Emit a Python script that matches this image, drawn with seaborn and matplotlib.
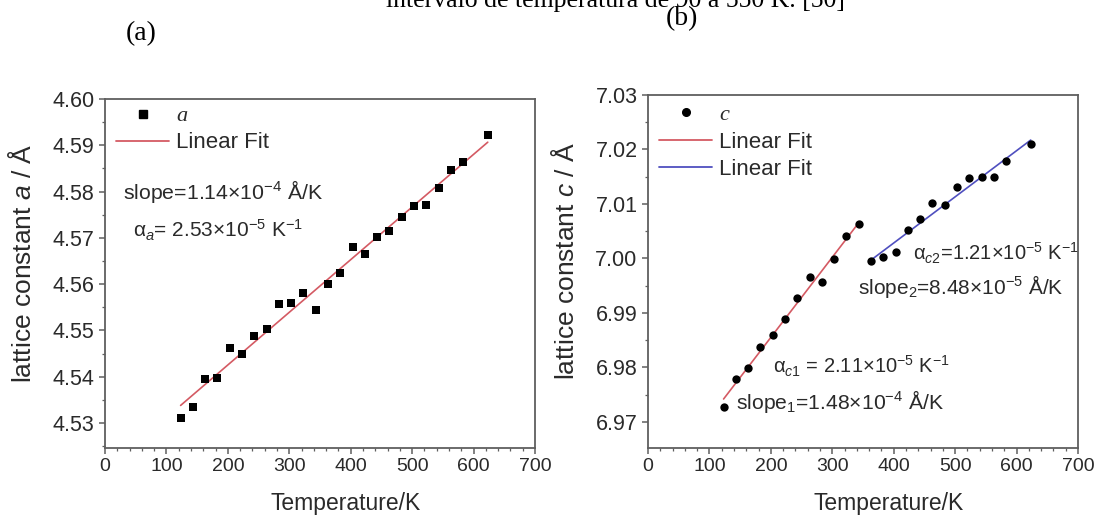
import numpy as np
import pandas as pd
import matplotlib
matplotlib.use("Agg")
import matplotlib.pyplot as plt
import seaborn as sns
from matplotlib.ticker import MultipleLocator
from matplotlib.lines import Line2D

# ---------------- data ----------------
temp_a = [123, 143, 163, 183, 203, 223, 243, 263, 283, 303, 323, 343, 363,
          383, 403, 423, 443, 463, 483, 503, 523, 543, 563, 583, 623]
lat_a = [4.5311, 4.5334, 4.5396, 4.5397, 4.5462, 4.5450, 4.5489, 4.5504,
         4.5557, 4.5559, 4.5581, 4.5545, 4.5601, 4.5623, 4.5680, 4.5665,
         4.5702, 4.5714, 4.5746, 4.5769, 4.5771, 4.5808, 4.5847, 4.5863,
         4.5922]

temp_c1 = [123, 143, 163, 183, 203, 223, 243, 263, 283, 303, 323, 343]
lat_c1 = [6.9728, 6.9778, 6.9799, 6.9838, 6.9859, 6.9889, 6.9927, 6.9965,
          6.9957, 6.9999, 7.0042, 7.0063]

temp_c2 = [363, 383, 403, 423, 443, 463, 483, 503, 523, 543, 563, 583, 623]
lat_c2 = [6.9996, 7.0002, 7.0011, 7.0053, 7.0072, 7.0101, 7.0098, 7.0132,
          7.0148, 7.0149, 7.0149, 7.0178, 7.0211]

x_ticks = [0, 100, 200, 300, 400, 500, 600, 700]
ya_ticks = [4.53, 4.54, 4.55, 4.56, 4.57, 4.58, 4.59, 4.60]
yc_ticks = [6.97, 6.98, 6.99, 7.00, 7.01, 7.02, 7.03]

df_a = pd.DataFrame({"T": temp_a, "a": lat_a})
df_c1 = pd.DataFrame({"T": temp_c1, "c": lat_c1})
df_c2 = pd.DataFrame({"T": temp_c2, "c": lat_c2})

# ---------------- style ----------------
sns.set_theme(style="white")
plt.rcParams["font.family"] = ["Liberation Sans", "DejaVu Sans"]
plt.rcParams["mathtext.fontset"] = "custom"
plt.rcParams["mathtext.rm"] = "Liberation Sans"
plt.rcParams["mathtext.it"] = "Liberation Sans:italic"
plt.rcParams["mathtext.bf"] = "Liberation Sans:bold"

RED = "#d45a63"
BLUE = "#4f4fbf"
SPINE = "#5f5f5f"
TXT = "#2a2a2a"
XTICK_FS = 14
YTICK_FS = 15.5
XLAB_FS = 16.5
YLAB_FS = 19
ANN_FS = 15
LEG_FS = 16

fig = plt.figure(figsize=(11.14, 5.17), dpi=100)
ax1 = fig.add_axes([0.0943, 0.1335, 0.386, 0.675])
ax2 = fig.add_axes([0.5817, 0.1335, 0.386, 0.6827])


def style_axes(ax):
    for s in ax.spines.values():
        s.set_color(SPINE)
        s.set_linewidth(1.3)
    ax.tick_params(which="both", direction="out", top=False, right=False,
                   bottom=True, left=True, color=SPINE, labelcolor=TXT)
    ax.tick_params(axis="x", labelsize=XTICK_FS)
    ax.tick_params(axis="y", labelsize=YTICK_FS)
    ax.tick_params(which="major", length=4.5, width=1.1, pad=3)
    ax.tick_params(which="minor", length=2.5, width=0.9)
    ax.set_xlim(0, 700)
    ax.set_xticks(x_ticks)
    ax.xaxis.set_minor_locator(MultipleLocator(20))
    ax.set_xlabel("Temperature/K", fontsize=XLAB_FS, color=TXT)
    ax.xaxis.set_label_coords(0.56, -0.125)


# ---------------- panel (a) ----------------
sns.scatterplot(data=df_a, x="T", y="a", ax=ax1, marker="s", s=38,
                color="black", edgecolor="black", linewidth=0, zorder=3)
sns.regplot(data=df_a, x="T", y="a", ax=ax1, scatter=False, ci=None,
            line_kws={"color": RED, "lw": 1.2}, truncate=True)
style_axes(ax1)
ax1.set_ylim(4.5246, 4.60)
ax1.set_yticks(ya_ticks)
ax1.set_yticklabels([f"{v:.2f}" for v in ya_ticks])
ax1.yaxis.set_minor_locator(MultipleLocator(0.005))
ax1.set_ylabel(r"lattice constant $a$ / Å", fontsize=YLAB_FS, color=TXT)
ax1.yaxis.set_label_coords(-0.16, 0.53)

h_a = [Line2D([], [], ls="none", marker="s", color="black", ms=5.5),
       Line2D([], [], color=RED, lw=1.3)]
leg1 = ax1.legend(h_a, ["a", "Linear Fit"], loc="upper left",
                  frameon=False, fontsize=LEG_FS, handlelength=2.4,
                  handletextpad=0.3, borderaxespad=0.1, labelspacing=0.27,
                  bbox_to_anchor=(0.0, 1.012))
leg1.get_texts()[0].set_fontfamily("Liberation Serif")
leg1.get_texts()[0].set_fontstyle("italic")
for t in leg1.get_texts():
    t.set_color(TXT)

ax1.text(30, 4.5800, "slope=1.14×10$^{-4}$ Å/K", fontsize=ANN_FS + 0.3,
         color=TXT, va="center")
ax1.text(46, 4.5717, r"$\mathrm{\alpha}_a$= 2.53×10$^{-5}$ K$^{-1}$",
         fontsize=ANN_FS, color=TXT, va="center")

# ---------------- panel (b) ----------------
df_c = pd.concat([df_c1, df_c2])
sns.scatterplot(data=df_c, x="T", y="c", ax=ax2, marker="o", s=36,
                color="black", edgecolor="black", linewidth=0, zorder=3)
sns.regplot(data=df_c1, x="T", y="c", ax=ax2, scatter=False, ci=None,
            line_kws={"color": RED, "lw": 1.2}, truncate=True)
sns.regplot(data=df_c2, x="T", y="c", ax=ax2, scatter=False, ci=None,
            line_kws={"color": BLUE, "lw": 1.2}, truncate=True)
style_axes(ax2)
ax2.set_ylim(6.9652, 7.03)
ax2.set_yticks(yc_ticks)
ax2.set_yticklabels([f"{v:.2f}" for v in yc_ticks])
ax2.yaxis.set_minor_locator(MultipleLocator(0.005))
ax2.set_ylabel(r"lattice constant $c$ / Å", fontsize=YLAB_FS, color=TXT)
ax2.yaxis.set_label_coords(-0.16, 0.53)

h_c = [Line2D([], [], ls="none", marker="o", color="black", ms=5.5),
       Line2D([], [], color=RED, lw=1.3),
       Line2D([], [], color=BLUE, lw=1.3)]
leg2 = ax2.legend(h_c, ["c", "Linear Fit", "Linear Fit"], loc="upper left",
                  frameon=False, fontsize=LEG_FS, handlelength=2.4,
                  handletextpad=0.3, borderaxespad=0.1, labelspacing=0.3,
                  bbox_to_anchor=(0.0, 1.005))
leg2.get_texts()[0].set_fontfamily("Liberation Serif")
leg2.get_texts()[0].set_fontstyle("italic")
for t in leg2.get_texts():
    t.set_color(TXT)

ax2.text(432, 7.0009, r"$\mathrm{\alpha}_{c2}$=1.21×10$^{-5}$ K$^{-1}$",
         fontsize=ANN_FS - 0.5, color=TXT, va="center")
ax2.text(342, 6.9948, "slope$_2$=8.48×10$^{-5}$ Å/K",
         fontsize=ANN_FS, color=TXT, va="center")
ax2.text(204, 6.9801, r"$\mathrm{\alpha}_{c1}$ = 2.11×10$^{-5}$ K$^{-1}$",
         fontsize=ANN_FS - 0.5, color=TXT, va="center")
ax2.text(144, 6.9737, "slope$_1$=1.48×10$^{-4}$ Å/K",
         fontsize=ANN_FS + 0.2, color=TXT, va="center")

# ---------------- figure labels ----------------
serif = ["Liberation Serif", "DejaVu Serif"]
fig.text(615 / 1114, 1 - 7 / 517, "intervalo de temperatura de 90 a 550 K. [50]",
         ha="center", va="baseline", fontsize=18.5, family=serif, color="black")
fig.text(141 / 1114, 1 - 34 / 517, "(a)", ha="center", va="center",
         fontsize=20, family=serif, color="black")
fig.text(682 / 1114, 1 - 19 / 517, "(b)", ha="center", va="center",
         fontsize=20, family=serif, color="black")

fig.savefig("out.png", dpi=100)
